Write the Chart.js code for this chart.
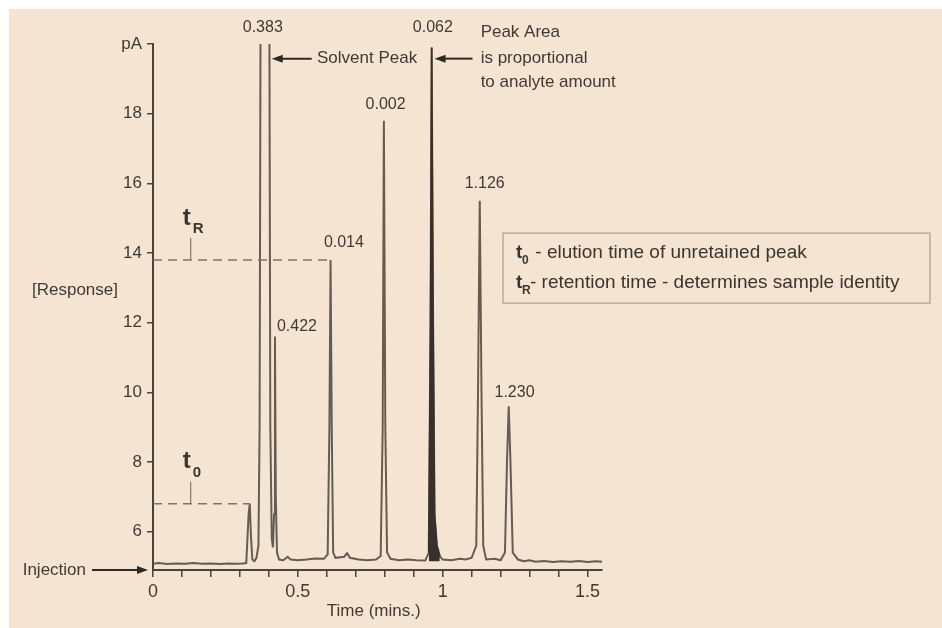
<!DOCTYPE html>
<html>
<head>
<meta charset="utf-8">
<script src="https://cdn.jsdelivr.net/npm/chart.js@4.4.1/dist/chart.umd.min.js"></script>
<style>
body{margin:0;background:#fff;}
#wrap{width:942px;height:628px;}
</style>
</head>
<body>
<div id="wrap"><canvas id="chromChart" width="942" height="628"></canvas></div>
<script>
// chromatogram trace (minutes, pA)
const traceTime = [
0.000,0.020,0.050,0.080,0.110,0.140,0.170,0.200,0.230,0.260,0.290,0.310,0.322,0.330,0.334,0.338,0.343,0.350,0.357,
0.364,0.368,0.371,0.375,0.388,0.398,0.402,0.405,0.410,0.414,0.418,0.421,0.424,0.428,0.435,0.450,0.465,0.475,0.500,
0.530,0.560,0.590,0.603,0.609,0.613,0.617,0.622,0.630,0.660,0.670,0.680,0.710,0.740,0.770,0.786,0.793,0.797,0.802,
0.808,0.820,0.850,0.880,0.910,0.940,0.952,0.958,0.962,0.967,0.972,0.980,0.990,1.000,1.030,1.060,1.080,1.100,1.116,
1.122,1.128,1.134,1.140,1.150,1.180,1.200,1.215,1.222,1.228,1.234,1.242,1.260,1.280,1.300,1.320,1.350,1.380,1.410,
1.440,1.470,1.500,1.530,1.550
];
const traceSignal = [
5.08,5.10,5.07,5.09,5.08,5.10,5.08,5.09,5.07,5.09,5.08,5.09,5.10,6.50,6.80,5.90,5.20,5.15,5.25,
5.60,9.00,20.0,28.0,31.0,28.0,20.0,9.00,5.80,5.55,6.50,11.6,7.00,5.40,5.20,5.18,5.28,5.20,5.18,
5.20,5.23,5.22,5.35,9.00,13.8,9.00,5.40,5.25,5.28,5.38,5.25,5.20,5.18,5.20,5.30,9.00,17.8,9.00,
5.40,5.22,5.18,5.20,5.18,5.17,5.40,12.0,19.9,12.0,6.50,5.60,5.30,5.20,5.18,5.22,5.20,5.25,5.60,
10.0,15.5,10.0,5.60,5.20,5.22,5.18,5.40,8.00,9.60,8.00,5.40,5.20,5.15,5.18,5.14,5.16,5.13,5.15,
5.14,5.16,5.13,5.15,5.14
];

// shaded peak (0.062) range and its base level
const areaRange = [0.945, 0.995];
const areaBase = 5.15;

// t0 / tR markers
const t0Time = 0.334, t0Level = 6.8;
const tRTime = 0.613, tRLevel = 13.8;

// peak labels: text, time, response
const peakText = ["0.383","0.062","0.002","0.014","0.422","1.126","1.230"];
const peakTextTime = [0.379,0.966,0.803,0.659,0.497,1.145,1.248];
const peakTextLevel = [20.47,20.47,18.26,14.29,11.89,15.99,10.0];

// axes
const xTickValues = [0,0.1,0.2,0.3,0.4,0.5,0.6,0.7,0.8,0.9,1.0,1.1,1.2,1.3,1.4,1.5];
const xTickLabels = ["0","","","","","0.5","","","","","1","","","","","1.5"];
const yTickValues = [6,8,10,12,14,16,18,20];
const yTickLabels = ["6","8","10","12","14","16","18","pA"];

const INK = "#3f3a35";
const TRACE = "#655c55";
const AXIS = "#4a433d";
const BEIGE = "#f5e4d1";
const FONT = "'Liberation Sans', Arial, sans-serif";

const trace = traceTime.map((t,i)=>({x:t,y:traceSignal[i]}));
const area = trace.filter(p=>p.x>=areaRange[0] && p.x<=areaRange[1]);

const bgPlugin = {
id:"bg",
beforeDraw(chart){
const c = chart.ctx;
c.save();
c.fillStyle = "#fff";
c.fillRect(0,0,chart.width,chart.height);
c.fillStyle = BEIGE;
c.fillRect(9,9,chart.width-9,chart.height-9);
c.restore();
}
};

function arrow(c,x1,y1,x2,y2){
// line from (x1,y1) with head at (x2,y2)
const dir = Math.sign(x2-x1);
c.beginPath();
c.moveTo(x1,y1);
c.lineTo(x2-dir*8,y2);
c.stroke();
c.beginPath();
c.moveTo(x2,y2);
c.lineTo(x2-dir*11,y2-4);
c.lineTo(x2-dir*11,y2+4);
c.closePath();
c.fill();
}

const notePlugin = {
id:"notes",
afterDraw(chart){
const c = chart.ctx;
const xs = chart.scales.x, ys = chart.scales.y;
const px = v=>xs.getPixelForValue(v);
const py = v=>ys.getPixelForValue(v);
const area = chart.chartArea;

c.save();
c.fillStyle = INK;
c.strokeStyle = INK;
c.textBaseline = "middle";

c.font = "16px "+FONT;
c.textAlign = "center";
peakText.forEach((s,i)=>c.fillText(s,px(peakTextTime[i]),py(peakTextLevel[i])));

// annotations top
const topY = py(19.58);
c.font = "17px "+FONT;
c.textAlign = "left";
c.fillText("Solvent Peak",px(0.566),topY);
c.fillText("Peak Area",px(1.131),py(20.33));
c.fillText("is proportional",px(1.131),topY);
c.fillText("to analyte amount",px(1.131),py(18.89));
c.lineWidth = 2;
c.fillStyle = "#2e2a26";
c.strokeStyle = "#2e2a26";
arrow(c,px(0.548),topY,px(0.41),topY);
arrow(c,px(1.103),topY,px(0.972),topY);
arrow(c,area.left-61,area.bottom,area.left-5,area.bottom);

c.fillStyle = INK;
c.textAlign = "right";
c.fillText("Injection",area.left-67,area.bottom);
c.textAlign = "center";
c.fillText("[Response]",area.left-78,py(12.92));
c.fillText("Time (mins.)",px(0.762),area.bottom+41);

// t0 / tR labels
c.strokeStyle = "#8a8078";
c.lineWidth = 1.3;
[[t0Level,"0"],[tRLevel,"R"]].forEach(([lvl,sub])=>{
const lx = px(0.13), ly = py(lvl);
c.beginPath();
c.moveTo(lx,ly);
c.lineTo(lx,ly-22);
c.stroke();
c.fillStyle = "#3a352f";
c.textAlign = "left";
c.font = "bold 24px "+FONT;
c.fillText("t",lx-8,ly-42);
c.font = "bold 15px "+FONT;
c.fillText(sub,lx+2,ly-31);
});

// legend box
const bx = area.right-99, by = py(14.57), bw = 427, bh = 70;
c.strokeStyle = "#bcab98";
c.lineWidth = 1.5;
c.strokeRect(bx,by,bw,bh);
c.fillStyle = "#3a352f";
const rows = [["0"," - elution time of unretained peak"],["R","- retention time - determines sample identity"]];
rows.forEach(([sub,txt],i)=>{
const ty = by+20+i*30;
c.font = "bold 19px "+FONT;
c.fillText("t",bx+13,ty);
c.font = "bold 12px "+FONT;
c.fillText(sub,bx+19,ty+8);
c.font = "19px "+FONT;
c.fillText(txt,bx+27,ty);
});
c.restore();
}
};

new Chart(document.getElementById("chromChart"),{
type:"line",
data:{
datasets:[
{
data:[{x:0,y:t0Level},{x:t0Time,y:t0Level}],
borderColor:"#7d746c",
borderWidth:1.6,
borderDash:[9,6],
pointRadius:0
},
{
data:[{x:0,y:tRLevel},{x:tRTime,y:tRLevel}],
borderColor:"#7d746c",
borderWidth:1.6,
borderDash:[9,6],
pointRadius:0
},
{
data:area,
borderColor:"#36312c",
backgroundColor:"#36312c",
borderWidth:1.5,
fill:{value:areaBase},
pointRadius:0
},
{
data:trace,
borderColor:TRACE,
borderWidth:2,
pointRadius:0,
tension:0
}
]
},
options:{
responsive:false,
animation:false,
devicePixelRatio:1,
layout:{padding:{left:0,right:340,top:44,bottom:0}},
plugins:{legend:{display:false},tooltip:{enabled:false}},
scales:{
x:{
type:"linear",
min:0,
max:1.55,
afterBuildTicks:s=>{s.ticks = xTickValues.map(v=>({value:v}));},
afterFit:s=>{s.height = 58;},
border:{display:true,color:AXIS,width:2},
grid:{drawOnChartArea:false,drawTicks:true,tickLength:7,color:AXIS,lineWidth:1.5},
ticks:{
autoSkip:false,
maxRotation:0,
padding:4,
color:INK,
font:{family:FONT,size:18},
callback:(v,i)=>xTickLabels[i]
}
},
y:{
min:4.9,
max:20,
afterBuildTicks:s=>{s.ticks = yTickValues.map(v=>({value:v}));},
afterFit:s=>{s.width = 153;},
border:{display:true,color:AXIS,width:2},
grid:{drawOnChartArea:false,drawTicks:true,tickLength:6,color:AXIS,lineWidth:1.5},
ticks:{
autoSkip:false,
padding:5,
color:INK,
font:{family:FONT,size:17},
callback:(v,i)=>yTickLabels[i]
}
}
}
},
plugins:[bgPlugin,notePlugin]
});
</script>
</body>
</html>
